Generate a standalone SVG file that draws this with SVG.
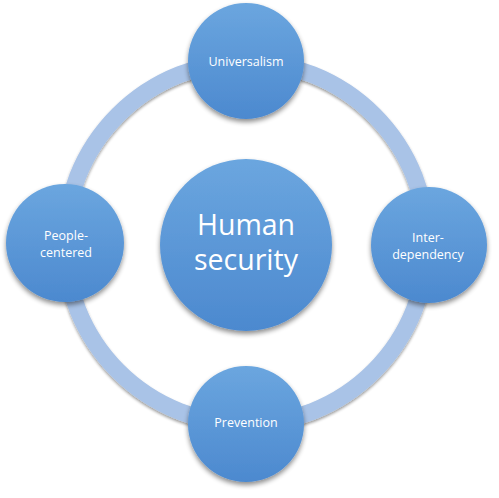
<svg xmlns="http://www.w3.org/2000/svg" width="499" height="498" viewBox="0 0 499 498">
  <defs>
    <linearGradient id="gBlue" x1="0" y1="0" x2="0" y2="1">
      <stop offset="0" stop-color="#6ba6df"/>
      <stop offset="1" stop-color="#4c89cf"/>
    </linearGradient>
    <filter id="shadow" x="-20%" y="-20%" width="140%" height="150%">
      <feGaussianBlur in="SourceAlpha" stdDeviation="2.5"/>
      <feOffset dx="0" dy="3" result="b"/>
      <feComponentTransfer><feFuncA type="linear" slope="0.45"/></feComponentTransfer>
      <feMerge><feMergeNode/><feMergeNode in="SourceGraphic"/></feMerge>
    </filter>
    <filter id="ringShadow" x="-10%" y="-10%" width="120%" height="120%">
      <feGaussianBlur in="SourceAlpha" stdDeviation="1.5"/>
      <feOffset dx="0" dy="2" result="b"/>
      <feComponentTransfer><feFuncA type="linear" slope="0.4"/></feComponentTransfer>
      <feMerge><feMergeNode/><feMergeNode in="SourceGraphic"/></feMerge>
    </filter>
    <style>
      .node { fill: url(#gBlue); filter: url(#shadow); }
      .lbl { fill: #ffffff; font-family: "Open Sans", "Liberation Sans", sans-serif; font-size: 12.5px; text-anchor: middle; }
      .big { fill: #ffffff; font-family: "Open Sans", "Liberation Sans", sans-serif; font-size: 28.5px; text-anchor: middle; }
    </style>
  </defs>
  <rect width="499" height="498" fill="#ffffff"/>
  <g id="connectors">
    <circle cx="246" cy="243" r="181" fill="none" stroke="#a9c3e7" stroke-width="17" filter="url(#ringShadow)"/>
  </g>
  <g id="center">
    <circle class="node" cx="246" cy="245" r="86"/>
    <text class="big" x="246" y="235">Human</text>
    <text class="big" x="246" y="270">security</text>
  </g>
  <g id="universalism">
    <circle class="node" cx="246" cy="61" r="58"/>
    <text class="lbl" x="246" y="66">Universalism</text>
  </g>
  <g id="interdependency">
    <circle class="node" cx="429" cy="245" r="58"/>
    <text class="lbl" x="428" y="242">Inter-</text>
    <text class="lbl" x="428" y="259">dependency</text>
  </g>
  <g id="prevention">
    <circle class="node" cx="246" cy="424" r="58"/>
    <text class="lbl" x="246" y="427">Prevention</text>
  </g>
  <g id="peoplecentered">
    <circle class="node" cx="65" cy="243" r="59"/>
    <text class="lbl" x="66" y="240">People-</text>
    <text class="lbl" x="66" y="257">centered</text>
  </g>
</svg>
